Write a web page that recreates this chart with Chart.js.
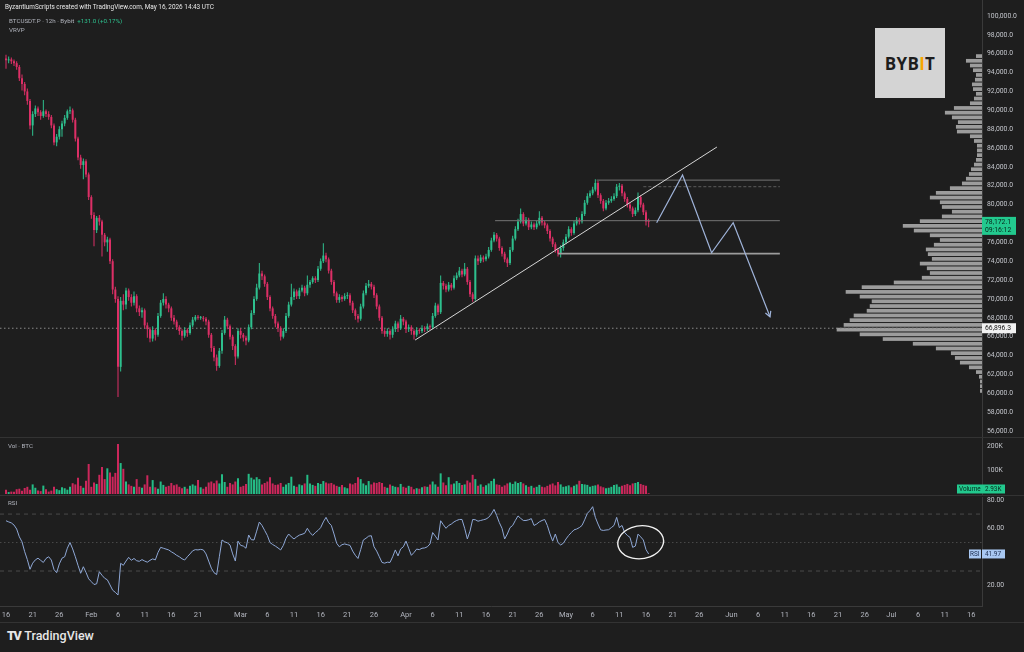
<!DOCTYPE html>
<html lang="en">
<head>
<meta charset="utf-8">
<title>BTCUSDT.P 12h - Bybit</title>
<script src="https://cdn.jsdelivr.net/npm/chart.js@4.4.1/dist/chart.umd.min.js"></script>
<style>
  html, body { margin: 0; padding: 0; background: #1e1e1e; }
  #wrap { position: relative; width: 1024px; height: 652px; overflow: hidden; background: #1e1e1e; font-family: Roboto, "Noto Sans", sans-serif; }
  #wrap canvas { position: absolute; left: 0; }
  #priceChart { top: 0; }
  #volChart { top: 438px; }
  #rsiChart { top: 496px; }
  .sep { position: absolute; left: 0; width: 1024px; height: 1px; background: #333; }
  .lbl { position: absolute; white-space: nowrap; line-height: 1; color: #b2b5be; }
  #header { left: 5px; top: 4px; font-size: 6.4px; color: #e8e8e8; }
  #symbol { left: 9px; top: 18px; font-size: 6.2px; }
  #symbol span { color: #2ec08e; }
  #vrvp { left: 9px; top: 27px; font-size: 6.2px; }
  #volTitle { left: 8px; top: 443px; font-size: 6.2px; }
  #rsiTitle { left: 8px; top: 500px; font-size: 6.2px; }
  #logo { position: absolute; left: 875px; top: 28px; width: 70px; height: 70px; background: #d4d4d4;
          display: flex; align-items: center; justify-content: center; font-family: "Open Sans", Roboto, sans-serif;
          font-weight: 700; font-size: 17px; color: #1d1d1d; letter-spacing: 0.3px; }
  #logo span { color: #f7a600; }
  #tv { left: 7px; top: 630px; font-size: 12.5px; color: #e6e6e6; font-weight: 500; }
  #tv b { font-weight: 900; letter-spacing: -1.5px; margin-right: 4px; }
</style>
</head>
<body>
<div id="wrap">
  <canvas id="priceChart" width="1024" height="438"></canvas>
  <canvas id="volChart" width="1024" height="58"></canvas>
  <canvas id="rsiChart" width="1024" height="132"></canvas>
  <div class="sep" style="top:437px"></div>
  <div class="sep" style="top:495px"></div>
  <div class="sep" style="top:622px"></div>
  <div class="lbl" id="header">ByzantiumScripts created with TradingView.com, May 16, 2026 14:43 UTC</div>
  <div class="lbl" id="symbol">BTCUSDT.P · 12h · Bybit &nbsp;<span>+131.0 (+0.17%)</span></div>
  <div class="lbl" id="vrvp">VRVP</div>
  <div class="lbl" id="volTitle">Vol · BTC</div>
  <div class="lbl" id="rsiTitle">RSI</div>
  <div id="logo">BYB<span>I</span>T</div>
  <div class="lbl" id="tv"><b>TV</b>TradingView</div>
</div>
<script>
// Datos: velas de 12h desde el 16 de enero (precios en miles de USDT)
const FIRST_OPEN = 95.5;
const closes = [
  95.3, 95.4, 95.2, 95.0, 94.6, 93.4, 92.8, 92.0, 91.0, 88.4,
  89.6, 90.2, 89.8, 89.4, 89.9, 89.6, 89.3, 88.4, 86.6, 87.2,
  88.0, 88.6, 89.2, 89.9, 90.0, 89.0, 87.0, 85.0, 84.2, 84.6,
  83.2, 80.8, 78.9, 77.3, 78.6, 78.2, 76.8, 76.0, 76.3, 74.0,
  71.0, 70.0, 62.8, 69.8, 69.4, 70.9, 70.2, 69.6, 70.3, 69.0,
  68.6, 68.8, 67.2, 66.8, 65.8, 66.7, 66.2, 68.2, 69.6, 70.0,
  69.4, 69.0, 68.0, 67.6, 67.0, 66.6, 66.1, 66.7, 66.4, 67.2,
  67.8, 68.1, 68.0, 68.0, 67.9, 67.6, 66.2, 64.8, 63.8, 62.9,
  64.5, 66.4, 67.8, 67.1, 66.0, 65.0, 63.9, 66.6, 66.2, 65.9,
  65.6, 67.0, 68.5, 70.0, 71.2, 72.7, 72.4, 71.6, 70.2, 69.0,
  68.2, 67.4, 66.9, 66.0, 66.6, 68.2, 69.4, 70.2, 70.8, 70.3,
  70.9, 71.2, 70.6, 71.5, 71.8, 72.2, 72.0, 73.2, 74.0, 74.6,
  74.2, 73.0, 71.8, 70.6, 69.9, 70.2, 70.0, 70.3, 70.4, 69.6,
  68.8, 68.2, 67.9, 69.2, 70.6, 71.4, 71.6, 71.3, 70.4, 69.2,
  68.0, 66.6, 66.3, 66.6, 66.2, 66.8, 67.4, 66.9, 67.9, 67.6,
  66.8, 67.0, 66.6, 66.2, 66.7, 66.6, 66.9, 66.8, 67.1, 67.0,
  68.2, 69.3, 68.6, 71.7, 71.4, 71.0, 71.5, 71.2, 72.2, 72.5,
  73.0, 72.6, 73.2, 71.8, 70.5, 70.0, 74.3, 74.0, 74.4, 74.2,
  74.5, 75.2, 76.2, 76.8, 76.4, 75.4, 74.8, 74.2, 73.8, 75.2,
  76.4, 77.4, 78.2, 79.0, 78.0, 78.4, 77.6, 77.9, 77.6, 78.0,
  78.6, 78.1, 77.8, 77.2, 76.4, 75.8, 75.2, 74.8, 75.4, 76.0,
  76.6, 77.4, 77.0, 78.0, 78.4, 78.2, 79.0, 80.2, 80.9, 81.2,
  81.6, 82.3, 81.0, 80.4, 79.6, 80.2, 80.4, 80.6, 80.9, 81.9,
  82.0, 81.2, 80.6, 80.0, 79.6, 79.0, 79.4, 80.8, 80.0, 79.2,
  78.2, 78.1721
];
const highs = [
  95.9, 95.7, 95.6, 95.4, 95.2, 94.8, 93.8, 93.0, 92.3, 91.2,
  89.9, 90.5, 90.4, 90.0, 91.1, 90.1, 89.9, 89.5, 88.6, 87.5,
  88.3, 88.9, 89.5, 90.1, 90.4, 90.2, 89.2, 87.2, 85.3, 84.9,
  84.8, 83.4, 81.0, 79.2, 78.8, 78.9, 78.4, 77.0, 76.6, 76.5,
  74.2, 71.3, 70.3, 70.2, 70.5, 71.2, 71.1, 70.5, 70.8, 70.5,
  69.3, 69.1, 69.0, 67.5, 67.0, 67.1, 66.9, 68.5, 69.9, 70.6,
  70.3, 69.6, 69.2, 68.3, 67.8, 67.2, 66.8, 67.0, 66.9, 67.5,
  68.1, 68.3, 68.3, 68.2, 68.2, 68.1, 67.8, 66.4, 65.0, 64.1,
  64.8, 66.7, 68.2, 68.0, 67.3, 66.2, 65.2, 66.9, 66.9, 66.4,
  66.1, 67.3, 68.8, 70.3, 71.6, 73.8, 73.0, 72.6, 71.8, 70.4,
  69.2, 68.4, 67.6, 67.1, 66.9, 68.5, 69.7, 71.6, 71.1, 71.0,
  71.2, 71.5, 71.4, 72.5, 72.0, 72.4, 72.4, 73.5, 74.3, 75.9,
  74.9, 74.4, 73.2, 72.0, 70.8, 70.5, 70.4, 70.6, 70.7, 70.6,
  69.8, 69.0, 68.4, 69.5, 70.9, 71.7, 72.0, 71.8, 71.5, 70.6,
  69.4, 68.2, 66.8, 66.9, 66.8, 67.1, 67.7, 67.6, 68.3, 68.1,
  67.8, 67.3, 67.2, 66.8, 67.0, 66.9, 67.2, 67.1, 67.4, 67.3,
  68.5, 69.6, 69.5, 72.5, 71.9, 71.6, 71.8, 71.7, 72.5, 72.8,
  73.4, 73.2, 73.8, 73.4, 72.0, 70.7, 74.6, 74.6, 74.7, 74.6,
  74.8, 75.5, 76.5, 77.1, 77.0, 76.6, 75.6, 75.0, 74.4, 75.5,
  76.7, 77.7, 78.5, 79.6, 79.2, 78.7, 78.6, 78.2, 78.1, 78.3,
  79.3, 78.8, 78.3, 78.0, 77.4, 76.6, 76.0, 75.4, 75.7, 76.3,
  76.9, 77.7, 77.6, 78.3, 78.7, 78.6, 79.3, 80.5, 81.2, 81.5,
  81.9, 82.7, 82.5, 81.2, 80.6, 80.5, 80.7, 80.9, 81.2, 82.2,
  82.3, 82.2, 81.4, 80.8, 80.2, 79.8, 79.7, 81.3, 81.0, 80.2,
  79.4, 78.5
];
const lows = [
  94.4, 95.0, 94.9, 94.7, 94.3, 93.1, 92.1, 91.6, 90.6, 88.0,
  87.3, 89.3, 89.4, 89.0, 89.2, 89.3, 89.0, 88.1, 86.3, 86.2,
  86.9, 87.2, 88.3, 89.0, 89.6, 88.7, 86.7, 84.7, 83.8, 82.7,
  82.9, 80.5, 78.5, 75.6, 77.0, 77.8, 74.5, 75.6, 75.0, 73.7,
  70.5, 69.6, 59.6, 62.3, 68.8, 68.9, 69.8, 69.2, 69.3, 68.6,
  68.2, 68.0, 66.9, 65.9, 65.4, 65.5, 65.6, 66.0, 68.0, 69.3,
  69.0, 68.6, 67.7, 67.3, 66.7, 66.2, 65.6, 65.9, 66.0, 66.2,
  67.0, 67.6, 67.8, 67.8, 67.6, 67.2, 65.9, 64.4, 63.4, 62.4,
  62.7, 64.2, 66.2, 66.8, 65.7, 64.6, 63.0, 63.7, 65.8, 65.5,
  65.1, 65.4, 66.8, 68.3, 69.8, 71.0, 72.0, 71.3, 69.9, 68.7,
  67.9, 67.0, 66.5, 65.6, 65.8, 66.4, 68.0, 69.2, 69.9, 70.0,
  70.0, 70.7, 70.3, 70.4, 71.2, 71.6, 71.7, 71.8, 73.0, 73.8,
  73.9, 72.7, 71.5, 70.3, 69.6, 69.6, 69.7, 69.8, 70.0, 69.3,
  68.5, 67.8, 67.5, 67.7, 69.0, 70.4, 71.2, 71.0, 70.1, 68.9,
  67.7, 66.3, 66.0, 66.0, 65.7, 65.9, 66.5, 66.5, 66.7, 67.2,
  66.4, 66.5, 66.2, 65.7, 66.0, 66.3, 66.4, 66.5, 66.6, 66.7,
  66.8, 68.0, 68.3, 68.4, 71.0, 70.7, 70.8, 70.9, 71.0, 72.0,
  72.3, 72.3, 72.4, 71.5, 70.2, 69.7, 69.8, 73.6, 73.8, 73.9,
  74.0, 74.3, 75.0, 76.0, 76.1, 75.1, 74.5, 73.9, 73.4, 73.6,
  75.0, 76.2, 77.2, 78.0, 77.7, 77.8, 77.3, 77.4, 77.3, 77.4,
  77.8, 77.8, 77.5, 76.9, 76.1, 75.5, 74.9, 74.5, 74.4, 75.1,
  75.8, 76.4, 76.7, 76.8, 77.8, 77.9, 78.0, 78.8, 80.0, 80.7,
  81.0, 81.4, 80.7, 80.1, 79.3, 79.4, 80.0, 80.2, 80.4, 80.7,
  81.5, 80.9, 80.3, 79.7, 79.3, 78.7, 78.8, 79.2, 79.7, 78.9,
  77.8, 77.6
];
// Volumen por vela (miles de BTC)
const volumes = [
  18, 8, 10, 9, 20, 22, 14, 25, 30, 18,
  40, 26, 15, 12, 35, 20, 10, 14, 30, 20,
  16, 28, 24, 18, 30, 45, 40, 68, 34, 26,
  55, 125, 30, 48, 42, 80, 112, 62, 107, 90,
  72, 88, 208, 129, 105, 52, 40, 34, 30, 62,
  30, 26, 40, 78, 30, 58, 28, 22, 52, 38,
  30, 34, 46, 36, 40, 30, 24, 30, 22, 34,
  40, 35, 58, 28, 22, 30, 48, 52, 45, 56,
  44, 82, 50, 30, 46, 40, 52, 66, 30, 34,
  42, 84, 68, 60, 70, 62, 40, 46, 52, 70,
  44, 38, 40, 46, 30, 40, 46, 72, 34, 30,
  40, 36, 44, 80, 44, 38, 34, 46, 42, 54,
  48, 44, 46, 40, 34, 30, 38, 28, 24, 44,
  40, 46, 70, 62, 44, 36, 54, 40, 48, 46,
  50, 46, 30, 26, 40, 34, 30, 28, 42, 30,
  26, 34, 30, 20, 24, 22, 28, 32, 30, 40,
  52, 40, 30, 86, 48, 36, 70, 40, 44, 54,
  46, 38, 40, 56, 48, 80, 62, 34, 40, 30,
  36, 44, 54, 64, 40, 38, 30, 36, 44, 48,
  42, 52, 46, 50, 44, 36, 30, 34, 26, 30,
  38, 30, 28, 34, 40, 44, 36, 50, 40, 30,
  32, 36, 28, 34, 40, 55, 42, 40, 38, 30,
  34, 36, 40, 32, 28, 24, 26, 30, 38, 40,
  30, 34, 38, 42, 36, 44, 46, 50, 42, 38,
  34, 2.93
];
// RSI(14)
const rsiValues = [
  65.3, 64.5, 63.8, 62.3, 59.5, 54.0, 50.5, 43.6, 38.0, 31.2,
  35.5, 37.8, 39.0, 37.5, 36.0, 38.8, 40.0, 37.7, 31.0, 28.8,
  35.0, 39.0, 40.0, 46.0, 50.0, 45.5, 40.0, 34.0, 28.4, 33.0,
  29.0, 24.5, 22.5, 20.5, 21.0, 29.5, 27.0, 24.9, 23.8, 20.2,
  16.5, 15.0, 13.1, 35.4, 34.0, 37.0, 39.6, 37.5, 38.8, 37.2,
  36.8, 38.0, 37.0, 36.2, 37.5, 38.5, 37.8, 43.0, 46.6, 46.0,
  45.4, 44.8, 43.5, 42.4, 41.0, 40.0, 38.6, 37.7, 40.0, 42.0,
  44.2, 45.0, 44.8, 45.2, 44.8, 42.0, 37.0, 32.0, 28.8, 27.5,
  40.0, 51.8, 50.5, 49.8, 48.3, 42.0, 37.0, 51.0, 48.0, 47.5,
  46.0, 55.3, 52.0, 51.8, 58.0, 64.4, 62.0, 58.5, 55.0, 50.0,
  48.6, 47.5, 46.2, 44.8, 48.0, 53.0, 56.0, 54.0, 52.5, 54.0,
  55.2, 55.8, 56.5, 60.0, 57.0, 55.0, 57.0, 58.5, 60.5, 64.5,
  67.7, 64.0, 62.0, 56.0, 49.5, 47.0, 48.5, 49.0, 48.5, 48.0,
  44.0, 41.0, 38.8, 45.0, 51.8, 53.0, 54.5, 54.8, 47.0, 44.0,
  40.0, 36.0, 35.5, 36.2, 36.0, 40.0, 44.8, 40.6, 45.5, 47.0,
  51.0, 46.0, 41.0, 43.0, 45.4, 45.0, 46.0, 46.2, 47.0, 49.0,
  57.0, 54.5, 51.8, 65.3, 62.5, 60.0, 62.0, 63.0, 64.5, 65.5,
  66.2, 66.2, 60.0, 52.5, 58.0, 66.2, 66.0, 65.0, 65.5, 66.0,
  66.5, 67.7, 70.0, 73.3, 69.0, 64.0, 60.0, 52.5, 56.0, 60.5,
  62.0, 65.5, 68.7, 67.0, 65.5, 65.5, 66.0, 66.8, 62.0, 63.0,
  64.5, 65.5, 66.2, 62.0, 56.0, 51.0, 56.0, 50.0, 48.3, 49.5,
  52.5, 55.0, 57.0, 58.9, 59.5, 60.5, 62.0, 66.0, 70.5, 72.5,
  75.2, 67.7, 63.0, 58.9, 58.5, 58.8, 59.0, 60.5, 62.0, 67.7,
  60.5, 62.0, 57.0, 55.0, 53.6, 46.6, 47.5, 55.9, 54.0, 51.8,
  45.0, 41.97
];

// Eje de tiempo
const START_DATE = '2026-01-16';
const tickDates = [
  '2026-01-16', '2026-01-21', '2026-01-26', '2026-02-01', '2026-02-06', '2026-02-11', '2026-02-16', '2026-02-21',
  '2026-03-01', '2026-03-06', '2026-03-11', '2026-03-16', '2026-03-21', '2026-03-26',
  '2026-04-01', '2026-04-06', '2026-04-11', '2026-04-16', '2026-04-21', '2026-04-26',
  '2026-05-01', '2026-05-06', '2026-05-11', '2026-05-16', '2026-05-21', '2026-05-26',
  '2026-06-01', '2026-06-06', '2026-06-11', '2026-06-16', '2026-06-21', '2026-06-26',
  '2026-07-01', '2026-07-06', '2026-07-11', '2026-07-16'
];
const monthNames = ['Jan', 'Feb', 'Mar', 'Apr', 'May', 'Jun', 'Jul', 'Aug', 'Sep', 'Oct', 'Nov', 'Dec'];
const priceTicks = [56, 58, 60, 62, 64, 66, 68, 70, 72, 74, 76, 78, 80, 82, 84, 86, 88, 90, 92, 94, 96, 98, 100];
const volumeTicks = [100, 200];
const rsiTicks = [20, 60, 80];

// Perfil de volumen (VRVP), filas de 500 USDT desde 60,000
const profileStart = 60.0;
const profileStep = 0.5;
const profileVolumes = [
  2, 2, 2, 3, 6, 13, 22, 27, 31, 46,
  69, 99, 122, 145, 138, 132, 128, 115, 112, 110,
  122, 136, 120, 88, 60, 52, 55, 62, 50, 54,
  56, 48, 42, 52, 68, 79, 62, 40, 30, 40,
  42, 52, 46, 32, 20, 16, 13, 11, 8, 6,
  5, 5, 5, 8, 12, 25, 26, 24, 30, 37,
  28, 12, 8, 6, 9, 10, 7, 6, 9, 12,
  16, 6
];
const pocPrice = 66.8963;
const countdown = '09:16:12';

// Dibujos sobre el gráfico (índice de vela, precio)
const trendX = [153.4, 266.6];
const trendY = [65.64, 86.11];
const levelPrices = [82.6, 81.9, 78.3, 74.8];
const levelStarts = [221.5, 239.0, 183.4, 207.0];
const levelEnd = 290.2;
const pathX = [244.0, 253.7, 264.6, 272.7, 286.5];
const pathY = [78.08, 83.14, 74.90, 78.08, 68.11];
const rsiBands = [70, 50, 30];
const circleCenter = [238, 50.2];
const circleRadius = [8.6, 11.6];

// Estilos
const UP = '#2ec08e';
const DOWN = '#dc2f66';
const AXIS_LINE = '#3a3a3a';
const TICK_COLOR = '#c3c5cb';
const X_MIN = -2.25;
const X_MAX = 366;
const AXIS_WIDTH = 42;

Chart.defaults.font.family = 'Roboto, "Noto Sans", sans-serif';
Chart.defaults.color = TICK_COLOR;

const opens = closes.map((c, i) => i === 0 ? FIRST_OPEN : closes[i - 1]);
const isUp = closes.map((c, i) => c >= opens[i]);
const candleColors = isUp.map(u => u ? UP : DOWN);

document.addEventListener('DOMContentLoaded', function() {
    initializePriceChart();
    initializeVolumeChart();
    initializeRsiChart();
});

function fmtPrice(v) {
    return (v * 1000).toLocaleString('en-US', { minimumFractionDigits: 1, maximumFractionDigits: 1 });
}

function dayIndex(iso) {
    const d = new Date(iso + 'T00:00:00Z');
    const s = new Date(START_DATE + 'T00:00:00Z');
    return (d - s) / 43200000;
}

function baseOptions() {
    return {
        responsive: false,
        animation: false,
        events: [],
        layout: { padding: 0 },
        plugins: { legend: { display: false }, tooltip: { enabled: false } }
    };
}

function xAxis(show) {
    return {
        type: 'linear',
        min: X_MIN,
        max: X_MAX,
        offset: false,
        display: show,
        grid: { display: false, drawTicks: false },
        border: { display: show, color: AXIS_LINE },
        ticks: {
            autoSkip: false,
            maxRotation: 0,
            padding: 5,
            color: '#b2b5be',
            font: { size: 7.5 },
            callback: function(value) {
                const k = tickDates.findIndex(t => Math.abs(dayIndex(t) - value) < 0.01);
                if (k < 0) return '';
                const d = new Date(tickDates[k] + 'T00:00:00Z');
                return d.getUTCDate() === 1 ? monthNames[d.getUTCMonth()] : String(d.getUTCDate());
            }
        },
        afterBuildTicks: function(scale) {
            scale.ticks = tickDates.map(t => ({ value: dayIndex(t) }));
        },
        afterFit: function(scale) {
            scale.paddingLeft = 0;
            scale.paddingRight = 0;
            if (show) scale.height = 22;
        }
    };
}

function rightAxis(min, max, ticks, fmt) {
    return {
        type: 'linear',
        position: 'right',
        min: min,
        max: max,
        grid: { display: false, drawTicks: false },
        border: { display: true, color: AXIS_LINE },
        ticks: { autoSkip: false, padding: 5, color: TICK_COLOR, font: { size: 6.8 }, callback: fmt },
        afterBuildTicks: function(scale) {
            scale.ticks = ticks.map(v => ({ value: v }));
        },
        afterFit: function(scale) {
            scale.width = AXIS_WIDTH;
            scale.paddingTop = 0;
            scale.paddingBottom = 0;
        }
    };
}

function drawTag(ctx, left, width, yMid, lines, bg, fg) {
    const lh = 8;
    ctx.fillStyle = bg;
    ctx.fillRect(left, yMid - lh / 2 - 1, width, lines.length * lh + 2);
    ctx.fillStyle = fg;
    ctx.font = '6.8px Roboto, sans-serif';
    ctx.textAlign = 'left';
    ctx.textBaseline = 'middle';
    lines.forEach((t, k) => ctx.fillText(t, left + 3, yMid + k * lh));
}

// Gráfico de precio
function initializePriceChart() {
    const idx = closes.map((c, i) => i);
    const bodies = {
        type: 'bar', order: 1, grouped: false, barThickness: 2, minBarLength: 1, inflateAmount: 0,
        borderWidth: 0, backgroundColor: candleColors,
        data: idx.map(i => ({ x: i, y: [opens[i], closes[i]] }))
    };
    const wicks = {
        type: 'bar', order: 2, grouped: false, barThickness: 1, inflateAmount: 0,
        borderWidth: 0, backgroundColor: candleColors,
        data: idx.map(i => ({ x: i, y: [lows[i], highs[i]] }))
    };
    const lineDs = (pts, color, width, dash) => ({
        type: 'line', order: 0, data: pts, borderColor: color, borderWidth: width,
        borderDash: dash || [], pointRadius: 0, fill: false, tension: 0
    });
    const levels = levelPrices.map((p, k) => lineDs(
        [{ x: levelStarts[k], y: p }, { x: levelEnd, y: p }],
        k === 3 ? '#9c9c9c' : (k === 1 ? '#5c5c5c' : '#747474'),
        k === 3 ? 1.8 : 1,
        k === 1 ? [3, 2] : []
    ));
    const trend = lineDs(trendX.map((x, k) => ({ x: x, y: trendY[k] })), '#d6d6d6', 1);
    const path = lineDs(pathX.map((x, k) => ({ x: x, y: pathY[k] })), '#9fb3d9', 1.2);

    // Perfil de volumen: largo de cada fila medido sobre la escala 'xp'
    const profilePlugin = {
        id: 'profile',
        beforeDatasetsDraw(chart) {
            const { ctx, chartArea, scales } = chart;
            const y = scales.y, xp = scales.xp;
            const zero = xp.getPixelForValue(0);
            ctx.save();
            ctx.fillStyle = '#9c9c9c';
            profileVolumes.forEach((v, k) => {
                const lo = profileStart + k * profileStep;
                const top = y.getPixelForValue(lo + profileStep) + 0.5;
                const bottom = y.getPixelForValue(lo) - 0.5;
                const len = Math.abs(xp.getPixelForValue(v) - zero);
                ctx.fillRect(chartArea.right - len, top, len, bottom - top);
            });
            const py = y.getPixelForValue(pocPrice);
            ctx.strokeStyle = '#8a8a8a';
            ctx.lineWidth = 1;
            ctx.setLineDash([1.5, 2.5]);
            ctx.beginPath();
            ctx.moveTo(chartArea.left, py);
            ctx.lineTo(chartArea.right, py);
            ctx.stroke();
            ctx.restore();
        }
    };

    const tagsPlugin = {
        id: 'priceTags',
        afterDraw(chart) {
            const { ctx, chartArea, scales } = chart;
            const x = scales.x, y = scales.y;
            ctx.save();
            // flecha al final de la proyección
            const n = pathX.length;
            const x1 = x.getPixelForValue(pathX[n - 2]), y1 = y.getPixelForValue(pathY[n - 2]);
            const x2 = x.getPixelForValue(pathX[n - 1]), y2 = y.getPixelForValue(pathY[n - 1]);
            const a = Math.atan2(y2 - y1, x2 - x1);
            ctx.strokeStyle = '#9fb3d9';
            ctx.lineWidth = 1.2;
            ctx.beginPath();
            ctx.moveTo(x2 - 6 * Math.cos(a - 0.5), y2 - 6 * Math.sin(a - 0.5));
            ctx.lineTo(x2, y2);
            ctx.lineTo(x2 - 6 * Math.cos(a + 0.5), y2 - 6 * Math.sin(a + 0.5));
            ctx.stroke();
            // etiquetas del eje
            const last = closes[closes.length - 1];
            drawTag(ctx, chartArea.right, 34, y.getPixelForValue(last), [fmtPrice(last), countdown], '#22c98e', '#08261b');
            drawTag(ctx, chartArea.right, 34, y.getPixelForValue(pocPrice), [fmtPrice(pocPrice)], '#f2f2f2', '#151515');
            ctx.restore();
        }
    };

    const maxProfile = Math.max(...profileVolumes);
    const options = baseOptions();
    options.scales = {
        x: xAxis(false),
        xp: { axis: 'x', type: 'linear', display: false, offset: false, min: 0, max: maxProfile / 0.148,
              ticks: { includeBounds: true } },
        y: rightAxis(55.259, 101.696, priceTicks, v => fmtPrice(v))
    };
    new Chart(document.getElementById('priceChart').getContext('2d'), {
        type: 'bar',
        data: { datasets: [trend, path, ...levels, bodies, wicks] },
        options: options,
        plugins: [profilePlugin, tagsPlugin]
    });
}

// Gráfico de volumen
function initializeVolumeChart() {
    const tagPlugin = {
        id: 'volTag',
        afterDraw(chart) {
            const { ctx, chartArea, scales } = chart;
            const v = volumes[volumes.length - 1];
            const yy = Math.min(scales.y.getPixelForValue(v), chartArea.bottom - 5);
            ctx.save();
            ctx.fillStyle = '#22c98e';
            ctx.fillRect(chartArea.right - 25, yy - 4.5, 48, 9);
            ctx.fillStyle = '#08261b';
            ctx.font = '6.4px Roboto, sans-serif';
            ctx.textBaseline = 'middle';
            ctx.textAlign = 'left';
            ctx.fillText('Volume', chartArea.right - 23, yy);
            ctx.fillText(v.toFixed(2) + 'K', chartArea.right + 3, yy);
            ctx.restore();
        }
    };
    const options = baseOptions();
    options.layout = { padding: { bottom: 2 } };
    options.scales = {
        x: xAxis(false),
        y: rightAxis(0, 233.3, volumeTicks, v => v + 'K')
    };
    new Chart(document.getElementById('volChart').getContext('2d'), {
        type: 'bar',
        data: {
            datasets: [{
                grouped: false, barThickness: 2, inflateAmount: 0, borderWidth: 0,
                backgroundColor: isUp.map(u => u ? 'rgba(38,205,145,0.9)' : 'rgba(222,40,98,0.9)'),
                data: volumes.map((v, i) => ({ x: i, y: v }))
            }]
        },
        options: options,
        plugins: [tagPlugin]
    });
}

// Gráfico RSI con eje de tiempo
function initializeRsiChart() {
    const bandsPlugin = {
        id: 'rsiBands',
        beforeDatasetsDraw(chart) {
            const { ctx, chartArea, scales } = chart;
            ctx.save();
            ctx.strokeStyle = '#4a4a4a';
            ctx.lineWidth = 1;
            rsiBands.forEach(b => {
                ctx.setLineDash(b === 50 ? [1.5, 2.5] : [4, 4]);
                const py = scales.y.getPixelForValue(b);
                ctx.beginPath();
                ctx.moveTo(chartArea.left, py);
                ctx.lineTo(chartArea.right, py);
                ctx.stroke();
            });
            ctx.restore();
        }
    };
    const markPlugin = {
        id: 'rsiMark',
        afterDraw(chart) {
            const { ctx, chartArea, scales } = chart;
            const x = scales.x, y = scales.y;
            const cx = x.getPixelForValue(circleCenter[0]);
            const cy = y.getPixelForValue(circleCenter[1]);
            const rx = x.getPixelForValue(circleCenter[0] + circleRadius[0]) - cx;
            const ry = cy - y.getPixelForValue(circleCenter[1] + circleRadius[1]);
            ctx.save();
            ctx.strokeStyle = '#f2f2f2';
            ctx.lineWidth = 1.4;
            ctx.beginPath();
            ctx.ellipse(cx, cy, rx, ry, -0.12, -1.9, Math.PI * 2 - 1.45);
            ctx.stroke();
            // etiqueta RSI
            const last = rsiValues[rsiValues.length - 1];
            const py = y.getPixelForValue(last);
            ctx.fillStyle = '#a9c8f2';
            ctx.fillRect(chartArea.right - 13, py - 4.5, 12, 9);
            ctx.fillRect(chartArea.right, py - 4.5, 23, 9);
            ctx.fillStyle = '#1b2b4d';
            ctx.font = '6.4px Roboto, sans-serif';
            ctx.textBaseline = 'middle';
            ctx.textAlign = 'left';
            ctx.fillText('RSI', chartArea.right - 12, py);
            ctx.fillText(last.toFixed(2), chartArea.right + 3, py);
            ctx.restore();
        }
    };
    const options = baseOptions();
    options.layout = { padding: { top: 1 } };
    options.scales = {
        x: xAxis(true),
        y: rightAxis(5.4, 82, rsiTicks, v => v.toFixed(2))
    };
    new Chart(document.getElementById('rsiChart').getContext('2d'), {
        type: 'line',
        data: {
            datasets: [{
                data: rsiValues.map((v, i) => ({ x: i, y: v })),
                borderColor: '#8fa8d6', borderWidth: 1, pointRadius: 0, fill: false, tension: 0
            }]
        },
        options: options,
        plugins: [bandsPlugin, markPlugin]
    });
}
</script>
</body>
</html>
